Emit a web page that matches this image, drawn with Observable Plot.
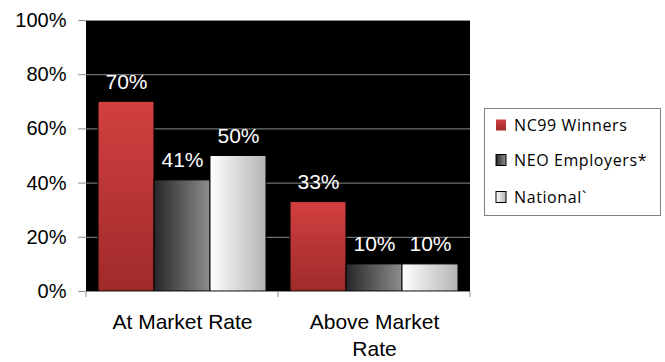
<!DOCTYPE html>
<html><head><meta charset="utf-8">
<script src="https://cdn.jsdelivr.net/npm/d3@7"></script>
<script src="https://cdn.jsdelivr.net/npm/@observablehq/plot@0.6"></script>
<style>body{margin:0;background:#fff}#chart{position:absolute;left:0;top:0}</style>
</head><body><div id="chart"></div>
<script>
const groups = ["At Market Rate", "Above Market Rate"];
const series = ["NC99 Winners", "NEO Employers*", "National`"];
const nc99 = [0.70, 0.33];
const neo = [0.41, 0.10];
const national = [0.50, 0.10];
const yTicks = [0, 0.2, 0.4, 0.6, 0.8, 1.0];

const values = [nc99, neo, national];
const data = [];
groups.forEach((g, gi) => series.forEach((s, si) => data.push({group: g, series: s, value: values[si][gi]})));

const gradIds = ["gRed", "gGray", "gWhite"];
const font = "'Liberation Sans', Arial, sans-serif";

const plot = Plot.plot({
  width: 665, height: 362,
  marginLeft: 86, marginRight: 195, marginTop: 20, marginBottom: 71,
  style: {fontFamily: font, background: "white"},
  fx: {domain: groups, padding: 0, axis: null, label: null},
  x: {domain: series, paddingInner: 0, paddingOuter: 0.21, axis: null, label: null},
  y: {domain: [0, 1], axis: null, label: null},
  color: {domain: series, range: gradIds.map(id => `url(#${id})`)},
  marks: [
    Plot.gridY(yTicks, {stroke: "#8c8c8c", strokeOpacity: 1, strokeWidth: 1}),
    Plot.barY(data, {fx: "group", x: "series", y: "value", fill: "series", stroke: "black", strokeWidth: 1}),
    Plot.text(data, {fx: "group", x: "series", y: "value", text: d => Math.round(d.value * 100) + "%",
      fill: "white", fontSize: 21, lineAnchor: "bottom", dy: -13}),
    Plot.ruleY([0], {stroke: "#8c8c8c"}),
    Plot.axisY({ticks: yTicks, tickFormat: d => Math.round(d * 100) + "%", tickSize: 8, tickPadding: 12,
      fontSize: 20, stroke: "#8c8c8c", color: "black", label: null}),
    Plot.axisFx({anchor: "bottom", tickSize: 0, tickPadding: 18, fontSize: 21, lineHeight: 1.3, label: null,
      tickFormat: d => d === "Above Market Rate" ? "Above Market\nRate" : d, color: "black",
      style: {letterSpacing: "0.8px"}})
  ]
});

const svg = d3.select(plot);
const defs = svg.insert("defs", ":first-child");
function grad(id, x2, y2, stops) {
  const g = defs.append("linearGradient").attr("id", id).attr("x1", 0).attr("y1", 0).attr("x2", x2).attr("y2", y2);
  stops.forEach(([o, c]) => g.append("stop").attr("offset", o).attr("stop-color", c));
}
grad("gRed", 0, 1, [[0, "#d24040"], [1, "#a02a2a"]]);
grad("gGray", 1, 0, [[0, "#262626"], [1, "#8e8e8e"]]);
grad("gWhite", 1, 0, [[0, "#ffffff"], [1, "#b4b4b4"]]);

const fx = plot.scale("fx");
const y = plot.scale("y");
const y0 = y.apply(0), y1 = y.apply(1);
const left = fx.apply(groups[0]);
const right = fx.apply(groups[groups.length - 1]) + fx.bandwidth;

// single black plot-area background
const bg = document.createElementNS("http://www.w3.org/2000/svg", "rect");
bg.setAttribute("x", left); bg.setAttribute("y", y1);
bg.setAttribute("width", right - left); bg.setAttribute("height", y0 - y1);
bg.setAttribute("fill", "black");
plot.insertBefore(bg, defs.node().nextSibling);

// boundary ticks on x axis at group edges
const edges = groups.map(g => fx.apply(g)).concat([right]);
svg.append("g").selectAll("line").data(edges).join("line")
  .attr("x1", d => d).attr("x2", d => d).attr("y1", y0).attr("y2", y0 + 6)
  .attr("stroke", "#8c8c8c");

// legend
const lg = svg.append("g").attr("text-anchor", "start");
lg.append("rect").attr("x", 484.5).attr("y", 108.5).attr("width", 176).attr("height", 107)
  .attr("fill", "white").attr("stroke", "#808080");
const rowY = [125, 160, 197];
series.forEach((s, i) => {
  lg.append("rect").attr("x", 496).attr("y", rowY[i] - 5.5).attr("width", 10).attr("height", 11)
    .attr("fill", `url(#${gradIds[i]})`).attr("stroke", i === 0 ? "none" : "black");
  lg.append("text").attr("x", 514).attr("y", rowY[i]).attr("dy", "0.35em")
    .attr("text-anchor", "start")
    .attr("font-family", "'Open Sans', Lato, sans-serif").attr("font-size", 16)
    .attr("letter-spacing", "0.6px").attr("fill", "black").text(s);
});

document.getElementById("chart").appendChild(plot);
</script>
</body></html>
